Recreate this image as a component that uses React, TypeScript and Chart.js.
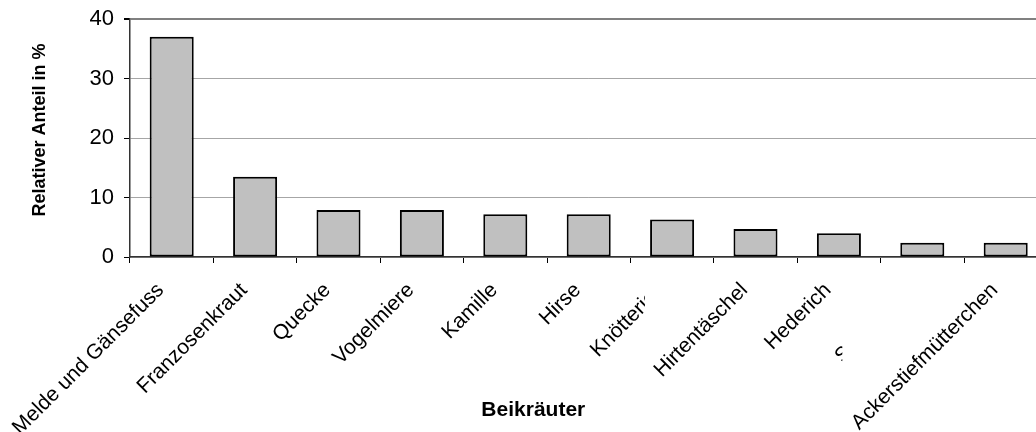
import React, { useEffect, useRef } from 'react';
import { Chart, registerables } from 'chart.js';

Chart.register(...registerables);

// ---- data ----
const categories = [
  'Melde und Gänsefuss',
  'Franzosenkraut',
  'Quecke',
  'Vogelmiere',
  'Kamille',
  'Hirse',
  'Knötterich',
  'Hirtentäschel',
  'Hederich',
  'Sternmiere',
  'Ackerstiefmütterchen',
];
const shares = [37.0, 13.5, 7.9, 7.9, 7.2, 7.2, 6.3, 4.7, 4.0, 2.4, 2.4];
const yTickValues = [0, 10, 20, 30, 40];
const labelsWithBackground = [7, 10];
const xTitle = 'Beikräuter';
const yTitle = 'Relativer Anteil in %';

const FONT = "'Liberation Sans', Arial, Helvetica, sans-serif";

const labelBoxPlugin = {
  id: 'labelBoxes',
  afterDraw(chart: any) {
    const xs: any = chart.scales.x;
    const items = xs.getLabelItems();
    const ctx = chart.ctx as CanvasRenderingContext2D;
    labelsWithBackground.forEach((i) => {
      const it = items[i];
      if (!it) return;
      ctx.save();
      ctx.font = it.font.string;
      const label = String(it.label);
      const w = ctx.measureText(label).width;
      const [tx, ty] = it.options.translation;
      const r = it.options.rotation;
      const lh = it.font.lineHeight;
      const y0 = it.textOffset - lh / 2;
      const y1 = it.textOffset + lh / 2;
      const pts = [
        [-w, y0],
        [0, y0],
        [-w, y1],
        [0, y1],
      ].map(([x, y]) => [
        tx + x * Math.cos(r) - y * Math.sin(r),
        ty + x * Math.sin(r) + y * Math.cos(r),
      ]);
      const minX = Math.min(...pts.map((p) => p[0])) - 4;
      const maxX = Math.max(...pts.map((p) => p[0]));
      const minY = Math.min(...pts.map((p) => p[1]));
      const maxY = Math.max(...pts.map((p) => p[1])) + 4;
      ctx.fillStyle = '#ffffff';
      ctx.fillRect(minX, minY, maxX - minX, maxY - minY);
      ctx.translate(tx, ty);
      ctx.rotate(r);
      ctx.textAlign = 'right';
      ctx.textBaseline = 'middle';
      ctx.fillStyle = it.options.color || '#000';
      ctx.fillText(label, 0, it.textOffset);
      ctx.restore();
    });
  },
};

const axisTitlePlugin = {
  id: 'axisTitles',
  afterDraw(chart: any) {
    const ctx = chart.ctx as CanvasRenderingContext2D;
    const a = chart.chartArea;
    ctx.save();
    ctx.fillStyle = '#000';
    ctx.textAlign = 'center';
    ctx.textBaseline = 'middle';
    ctx.font = `bold 21px ${FONT}`;
    ctx.fillText(xTitle, a.left + (a.right - a.left) * 0.4396, 410);
    ctx.translate(40, (a.top + a.bottom) / 2 - 8);
    ctx.rotate(-Math.PI / 2);
    ctx.font = `bold 18px ${FONT}`;
    ctx.fillText(yTitle, 0, 0);
    ctx.restore();
  },
};

export default function App() {
  const ref = useRef<HTMLCanvasElement>(null);

  useEffect(() => {
    const chart = new Chart(ref.current as HTMLCanvasElement, {
      type: 'bar',
      data: {
        labels: categories,
        datasets: [
          {
            data: shares,
            backgroundColor: '#c0c0c0',
            borderColor: '#000000',
            borderWidth: 2,
            borderSkipped: false,
            barPercentage: 0.528,
            categoryPercentage: 1,
          },
        ],
      },
      options: {
        animation: false,
        responsive: false,
        devicePixelRatio: 1,
        layout: { padding: { top: 19, right: 12.6, left: 0, bottom: 0 } },
        plugins: {
          legend: { display: false },
          tooltip: { enabled: false },
          title: { display: false },
        },
        scales: {
          x: {
            offset: true,
            grid: {
              display: true,
              offset: true,
              drawOnChartArea: false,
              drawTicks: true,
              tickLength: 6,
              tickColor: '#000',
              tickWidth: 1,
            },
            border: { display: true, color: '#333', width: 1.5 },
            ticks: {
              autoSkip: false,
              maxRotation: 45,
              minRotation: 45,
              padding: 15,
              labelOffset: -11,
              color: '#000',
              font: { family: FONT, size: 21 },
            },
            afterFit: (s: any) => {
              s.height = 175;
            },
          },
          y: {
            min: 0,
            max: 40,
            afterBuildTicks: (s: any) => {
              s.ticks = yTickValues.map((v) => ({ value: v }));
            },
            ticks: {
              padding: 10,
              color: '#000',
              font: { family: FONT, size: 22 },
            },
            grid: {
              color: (c: any) => (c.tick && c.tick.value === 40 ? '#808080' : '#a6a6a6'),
              lineWidth: (c: any) => (c.tick && c.tick.value === 40 ? 2 : 1),
              tickColor: '#000',
              tickLength: 6,
              drawTicks: true,
            },
            border: { display: true, color: '#333', width: 1.5 },
            afterFit: (s: any) => {
              s.width = 130;
              s.paddingTop = 0;
              s.paddingBottom = 0;
            },
          },
        },
      },
      plugins: [labelBoxPlugin, axisTitlePlugin],
    } as any);
    return () => chart.destroy();
  }, []);

  return (
    <div
      style={{
        position: 'fixed',
        left: 0,
        top: 0,
        width: 1036,
        height: 432,
        overflow: 'hidden',
        background: '#fff',
      }}
    >
      <div style={{ width: 1060, height: 432 }}>
        <canvas
          ref={ref}
          width={1060}
          height={432}
          style={{ display: 'block', width: 1060, height: 432 }}
        />
      </div>
    </div>
  );
}
